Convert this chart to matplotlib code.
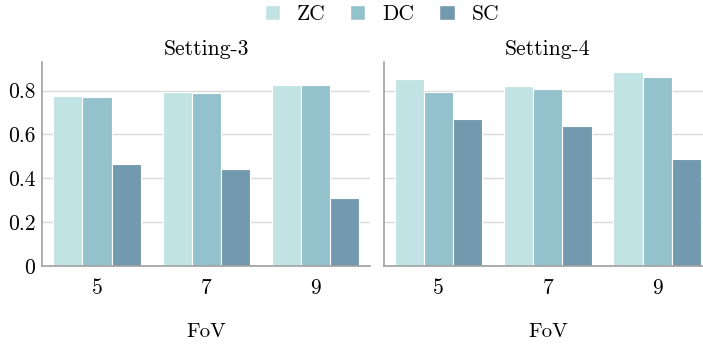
import numpy as np
import matplotlib
matplotlib.use("Agg")
import matplotlib.pyplot as plt
from matplotlib.patches import Patch

plt.rcParams['font.family'] = ['cmr10', 'DejaVu Serif']
plt.rcParams['axes.formatter.use_mathtext'] = True
plt.rcParams['mathtext.fontset'] = 'cm'

# data
fov = ['5', '7', '9']
methods = ['ZC', 'DC', 'SC']
setting3 = {
    'ZC': [0.776, 0.793, 0.826],
    'DC': [0.770, 0.788, 0.826],
    'SC': [0.465, 0.442, 0.312],
}
setting4 = {
    'ZC': [0.852, 0.820, 0.886],
    'DC': [0.793, 0.805, 0.860],
    'SC': [0.672, 0.636, 0.488],
}
titles = ['Setting-3', 'Setting-4']
yticks = [0, 0.2, 0.4, 0.6, 0.8]
ytick_labels = ['0', '0.2', '0.4', '0.6', '0.8']

colors = {'ZC': '#c2e3e4', 'DC': '#94c2cc', 'SC': '#7399ae'}

fig = plt.figure(figsize=(7.03, 3.44), dpi=100)
W, H = 703, 344
ax1 = fig.add_axes([42.4 / W, 1 - 266 / H, 327.8 / W, 204 / H])
ax2 = fig.add_axes([384 / W, 1 - 266 / H, 327.8 / W, 204 / H], sharey=ax1)

x = np.arange(len(fov))
bw = 0.8 / len(methods)

for ax, data, title in zip([ax1, ax2], [setting3, setting4], titles):
    for i, m in enumerate(methods):
        ax.bar(x + (i - 1) * bw, data[m], width=bw, color=colors[m],
               edgecolor='white', linewidth=0.8, zorder=2)
    ax.set_xlim(-0.5, 2.5)
    ax.set_ylim(0, 0.93)
    ax.set_xticks(x)
    ax.set_xticklabels(fov)
    ax.set_yticks(yticks)
    ax.yaxis.grid(True, color='#d9d9d9', linewidth=1.0, zorder=0.5)
    ax.set_axisbelow(True)
    ax.tick_params(length=0, labelsize=15.5, pad=9)
    ax.set_title(title, fontsize=15.5, pad=5)
    ax.set_xlabel('FoV', fontsize=15, labelpad=18)
    for s in ['top', 'right']:
        ax.spines[s].set_visible(False)
    for s in ['left', 'bottom']:
        ax.spines[s].set_color('#a0a0a0')
        ax.spines[s].set_linewidth(1.2)
        ax.spines[s].set_zorder(3)

ax1.set_yticklabels(ytick_labels)
ax1.tick_params(axis='y', pad=5)
plt.setp(ax2.get_yticklabels(), visible=False)

handles = [Patch(facecolor=colors[m], edgecolor='white') for m in methods]
fig.legend(handles, methods, loc='center', bbox_to_anchor=(382 / W, 1 - 14 / H),
           ncol=3, frameon=False, fontsize=15.5, handlelength=0.7,
           handleheight=0.7, columnspacing=1.15, handletextpad=0.8)

fig.savefig('out.png', dpi=100)
